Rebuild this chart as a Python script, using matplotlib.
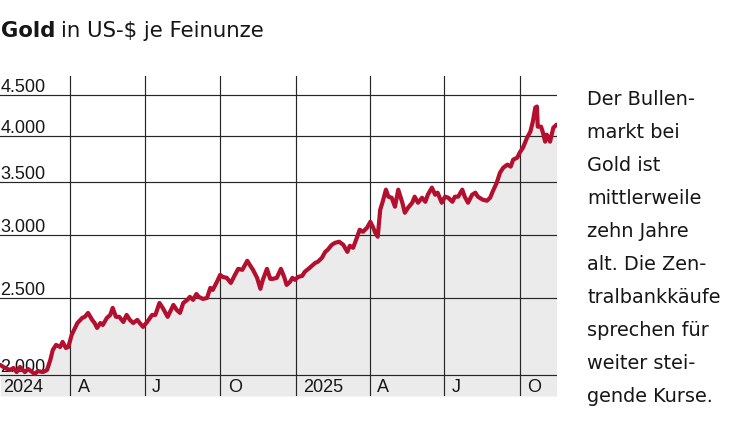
import matplotlib
matplotlib.use("Agg")
import matplotlib.pyplot as plt
import matplotlib.dates as mdates
import matplotlib.transforms as mtransforms
import numpy as np
import pandas as pd

# ---------------- data ----------------
dates = [
    "2024-01-07", "2024-01-13", "2024-01-19", "2024-01-23", "2024-01-27", "2024-01-31",
    "2024-02-06", "2024-02-10", "2024-02-15", "2024-02-18", "2024-02-22", "2024-02-28",
    "2024-03-04", "2024-03-08", "2024-03-11", "2024-03-15", "2024-03-20", "2024-03-23",
    "2024-03-27", "2024-03-30", "2024-04-03", "2024-04-10", "2024-04-16", "2024-04-19",
    "2024-04-23", "2024-04-28", "2024-05-01", "2024-05-04", "2024-05-08", "2024-05-11",
    "2024-05-16", "2024-05-20", "2024-05-23", "2024-05-27", "2024-05-31", "2024-06-05",
    "2024-06-09", "2024-06-13", "2024-06-17", "2024-06-22", "2024-06-25", "2024-06-29",
    "2024-07-04", "2024-07-10", "2024-07-14", "2024-07-19", "2024-07-23", "2024-07-29",
    "2024-08-05", "2024-08-09", "2024-08-13", "2024-08-17", "2024-08-22", "2024-08-25",
    "2024-08-29", "2024-09-02", "2024-09-05", "2024-09-10", "2024-09-15", "2024-09-19",
    "2024-09-22", "2024-09-27", "2024-10-01", "2024-10-04", "2024-10-09", "2024-10-14",
    "2024-10-19", "2024-10-23", "2024-10-28", "2024-11-03", "2024-11-06", "2024-11-10",
    "2024-11-15", "2024-11-19", "2024-11-22", "2024-11-27", "2024-12-01", "2024-12-04",
    "2024-12-09", "2024-12-14", "2024-12-18", "2024-12-21", "2024-12-25", "2024-12-28",
    "2024-12-31", "2025-01-04", "2025-01-09", "2025-01-12", "2025-01-18", "2025-01-25",
    "2025-01-28", "2025-02-02", "2025-02-06", "2025-02-09", "2025-02-14", "2025-02-18",
    "2025-02-23", "2025-02-28", "2025-03-05", "2025-03-08", "2025-03-12", "2025-03-17",
    "2025-03-20", "2025-03-24", "2025-03-29", "2025-04-02", "2025-04-05", "2025-04-08",
    "2025-04-11", "2025-04-14", "2025-04-17", "2025-04-21", "2025-04-24", "2025-04-28",
    "2025-05-02", "2025-05-06", "2025-05-11", "2025-05-14", "2025-05-18", "2025-05-23",
    "2025-05-26", "2025-05-30", "2025-06-04", "2025-06-08", "2025-06-11", "2025-06-16",
    "2025-06-20", "2025-06-23", "2025-06-28", "2025-07-02", "2025-07-06", "2025-07-11",
    "2025-07-14", "2025-07-18", "2025-07-23", "2025-07-26", "2025-07-30", "2025-08-04",
    "2025-08-08", "2025-08-11", "2025-08-17", "2025-08-22", "2025-08-26", "2025-08-29",
    "2025-09-03", "2025-09-07", "2025-09-11", "2025-09-16", "2025-09-20", "2025-09-23",
    "2025-09-28", "2025-10-01", "2025-10-05", "2025-10-10", "2025-10-14", "2025-10-17",
    "2025-10-20", "2025-10-22", "2025-10-23", "2025-10-27", "2025-10-29", "2025-11-01",
    "2025-11-03", "2025-11-07", "2025-11-11", "2025-11-15",
]
gold_usd = [
    2059, 2041, 2029, 2041, 2017, 2047,
    2017, 2035, 2017, 2006, 2023, 2017,
    2029, 2089, 2150, 2182, 2169, 2201,
    2163, 2169, 2246, 2325, 2360, 2367,
    2394, 2346, 2325, 2292, 2325, 2312,
    2360, 2380, 2429, 2367, 2367, 2332,
    2380, 2346, 2325, 2346, 2325, 2299,
    2332, 2380, 2380, 2464, 2429, 2367,
    2450, 2415, 2394, 2464, 2486, 2508,
    2486, 2529, 2508, 2493, 2500, 2574,
    2559, 2619, 2673, 2657, 2650, 2611,
    2673, 2720, 2712, 2784, 2752, 2712,
    2650, 2567, 2635, 2720, 2642, 2642,
    2650, 2720, 2657, 2596, 2619, 2650,
    2635, 2657, 2665, 2696, 2728, 2768,
    2776, 2808, 2857, 2874, 2916, 2933,
    2942, 2916, 2857, 2908, 2891, 2985,
    3046, 3028, 3064, 3117, 3073, 3019,
    2985, 3227, 3303, 3421, 3352, 3342,
    3256, 3421, 3294, 3200, 3247, 3294,
    3352, 3294, 3342, 3303, 3371, 3441,
    3371, 3391, 3294, 3352, 3342, 3303,
    3352, 3352, 3421, 3352, 3294, 3371,
    3391, 3352, 3323, 3313, 3342, 3401,
    3490, 3593, 3646, 3678, 3657, 3731,
    3753, 3808, 3864, 3977, 4047, 4166,
    4339, 4352, 4106, 4106, 4047, 3931,
    4012, 3931, 4094, 4130,
]

y_ticks = [2000, 2500, 3000, 3500, 4000, 4500]
y_tick_labels = ["2.000", "2.500", "3.000", "3.500", "4.000", "4.500"]

x_tick_dates = ["2024-01-01", "2024-04-01", "2024-07-01", "2024-10-01",
                "2025-01-01", "2025-04-01", "2025-07-01", "2025-10-01"]
x_tick_labels = ["2024", "A", "J", "O", "2025", "A", "J", "O"]

title_bold = "Gold"
title_rest = "in US-$ je Feinunze"

note_lines = ["Der Bullen-", "markt bei", "Gold ist", "mittlerweile", "zehn Jahre",
              "alt. Die Zen-", "tralbankkäufe", "sprechen für", "weiter stei-",
              "gende Kurse."]

# ---------------- styling ----------------
LINE_RED = "#b3102f"
FILL_GREY = "#ebebeb"
GRID = "#262626"
TEXT = "#161616"

W, H = 750, 421
fig = plt.figure(figsize=(W / 100, H / 100), dpi=100)
fig.patch.set_facecolor("white")

# axes box in pixels (from top-left): x 0..557, y 76..396
ax_left, ax_right, ax_top, ax_bottom = 0, 557, 76, 396
ax = fig.add_axes([ax_left / W, 1 - ax_bottom / H,
                   (ax_right - ax_left) / W, (ax_bottom - ax_top) / H])
ax.set_axis_off()
ax.set_yscale("log")

# y scale: 2000 at px 375, 4500 at px 95
k = (375 - 95) / np.log10(4500 / 2000)
ymin = 2000 * 10 ** (-(ax_bottom - 375) / k)
ymax = 4500 * 10 ** ((95 - ax_top) / k)
ax.set_ylim(ymin, ymax)

# x scale: 2024-04-01 at px 70, 2025-10-01 at px 519.7
d_a = mdates.date2num(pd.Timestamp("2024-04-01"))
d_b = mdates.date2num(pd.Timestamp("2025-10-01"))
pxday = (519.7 - 70) / (d_b - d_a)
ax.set_xlim(d_a - (70 - ax_left) / pxday, d_b + (ax_right - 519.7) / pxday)

x = mdates.date2num(pd.to_datetime(dates))
y = np.array(gold_usd, dtype=float)

ax.fill_between(x, y, ymin, color=FILL_GREY, lw=0, zorder=1)

for v in y_ticks:
    ax.axhline(v, color=GRID, lw=0.85, zorder=3)
for d in x_tick_dates:
    ax.axvline(mdates.date2num(pd.Timestamp(d)), color=GRID, lw=0.85, zorder=3)

ax.plot(x, y, color=LINE_RED, lw=3.0, zorder=6,
        solid_joinstyle="round", solid_capstyle="round")

# y tick labels (above gridlines, left)
ytrans = mtransforms.offset_copy(ax.get_yaxis_transform(), fig=fig, x=0.5, y=2.5, units="dots")
for v, lab in zip(y_ticks, y_tick_labels):
    ax.text(0, v, lab, transform=ytrans, ha="left", va="baseline",
            fontsize=13, family="Liberation Sans", color=TEXT, zorder=4, clip_on=False)

# x tick labels in the band
xtrans = mtransforms.offset_copy(ax.get_xaxis_transform(), fig=fig, x=7.5, y=0, units="dots")
yb = (ax_bottom - 391.5) / (ax_bottom - ax_top)
for d, lab in zip(x_tick_dates, x_tick_labels):
    ax.text(mdates.date2num(pd.Timestamp(d)), yb, lab, transform=xtrans,
            ha="left", va="baseline", fontsize=13, family="Liberation Sans",
            color=TEXT, zorder=4, clip_on=False)

# title
t1 = fig.text(0.5 / W, 1 - 37 / H, title_bold, fontsize=15.3, fontweight="bold",
              family="DejaVu Sans", color=TEXT, ha="left", va="baseline")
fig.canvas.draw()
bb = t1.get_window_extent(renderer=fig.canvas.get_renderer())
fig.text((bb.x1 + 6) / W, 1 - 37 / H, title_rest, fontsize=15.3,
         family="DejaVu Sans", color=TEXT, ha="left", va="baseline")

# side note
for i, line in enumerate(note_lines):
    fig.text(587 / W, 1 - (105 + 33 * i) / H, line, fontsize=13.9,
             family="DejaVu Sans", color=TEXT, ha="left", va="baseline")

fig.savefig("out.png", dpi=100)
